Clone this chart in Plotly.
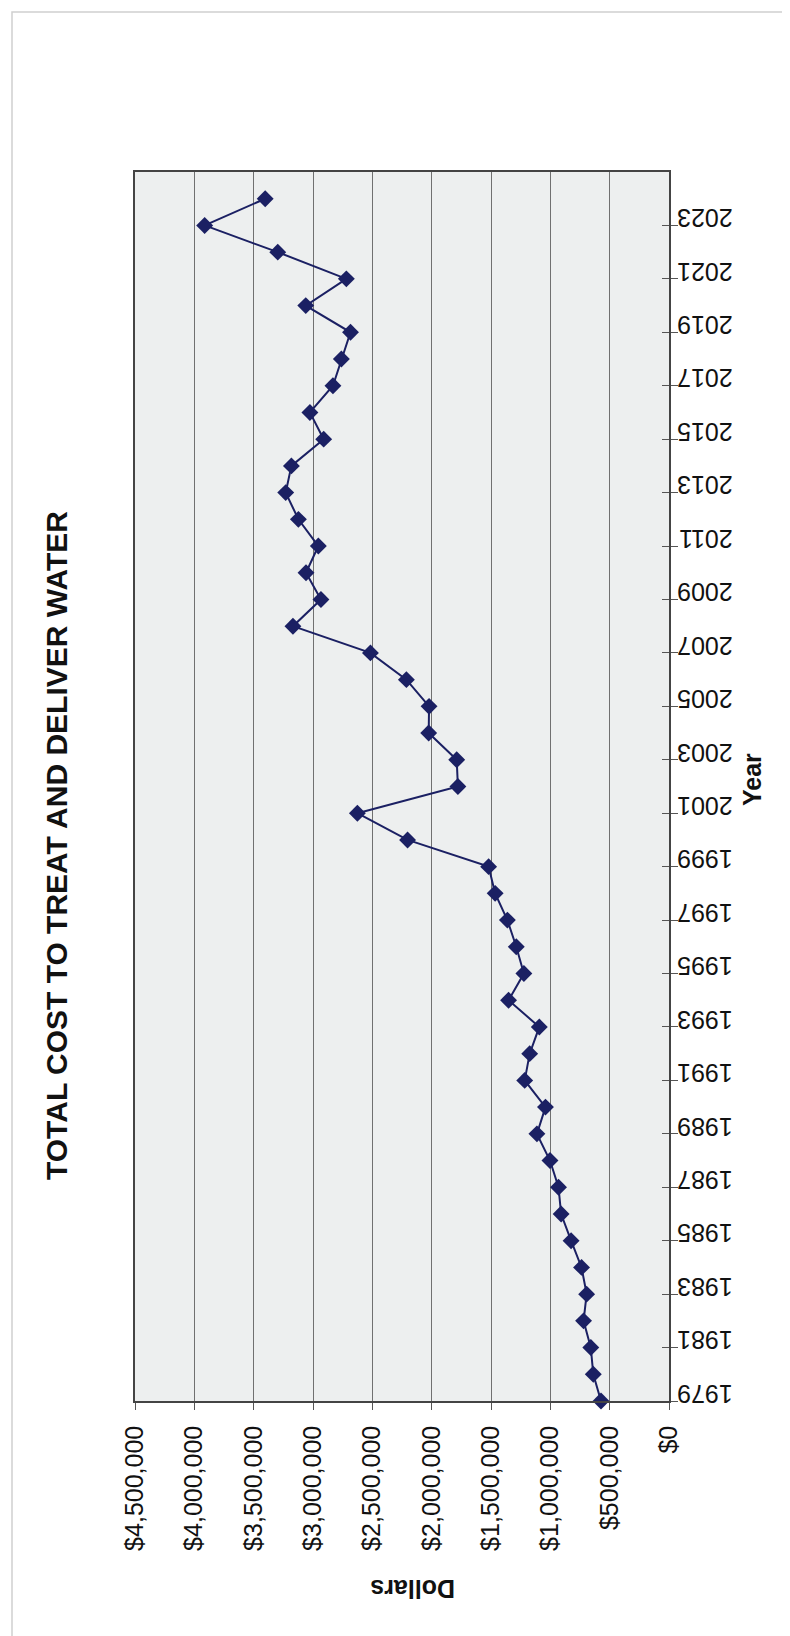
import plotly.graph_objects as go

# ---- data ----
years = list(range(1979, 2025))
costs = [
    573000, 638000, 659000, 720000, 694000, 737000, 825000, 909000, 931000, 1003000,
    1113000, 1041000, 1216000, 1174000, 1093000, 1352000, 1223000, 1287000, 1362000, 1465000,
    1520000, 2203000, 2626000, 1779000, 1789000, 2025000, 2022000, 2213000, 2516000, 3169000,
    2933000, 3059000, 2955000, 3123000, 3230000, 3182000, 2910000, 3026000, 2832000, 2761000,
    2684000, 3061000, 2719000, 3297000, 3913000, 3403000,
]
dollar_ticks = [0, 500000, 1000000, 1500000, 2000000, 2500000, 3000000, 3500000, 4000000, 4500000]
dollar_labels = ["$0", "$500,000", "$1,000,000", "$1,500,000", "$2,000,000",
                 "$2,500,000", "$3,000,000", "$3,500,000", "$4,000,000", "$4,500,000"]
year_ticks = list(range(1979, 2024, 2))
title_text = "TOTAL COST TO TREAT AND DELIVER WATER"

# ---- layout geometry (pixels) ----
W, H = 790, 1636
L, R, T, B = 127, 661, 164, 1393

def px(xp):
    return (xp - L) / (R - L)

def py(yp):
    return (B - yp) / (B - T)

FONT = "Liberation Sans, Arial, sans-serif"
GRID = "#707070"
NAVY = "#1b2063"

fig = go.Figure()
fig.add_trace(go.Scatter(
    x=costs, y=years, mode="lines+markers",
    line=dict(color=NAVY, width=2),
    marker=dict(symbol="diamond", size=13, color=NAVY),
    cliponaxis=False, showlegend=False, hoverinfo="x+y",
))
# same series on an overlaid axis, only so the inner half of the crossing year ticks is drawn
fig.add_trace(go.Scatter(
    x=costs, y=years, yaxis="y2", mode="lines",
    line=dict(color="rgba(0,0,0,0)", width=0), showlegend=False, hoverinfo="skip",
))

axis_common = dict(showline=True, linecolor="#444", linewidth=1.5, zeroline=False)

fig.update_layout(
    width=W, height=H,
    margin=dict(l=L, r=W - R, t=T, b=H - B, pad=0),
    paper_bgcolor="white",
    plot_bgcolor="#edefef",
    font=dict(family=FONT, color="#111111"),
    xaxis=dict(
        range=[4500000, 0], tickvals=dollar_ticks, ticktext=dollar_labels,
        tickangle=-90, tickfont=dict(size=25, family=FONT, color="#111"),
        ticklabelstandoff=6,
        showgrid=True, gridcolor=GRID, gridwidth=1, mirror=True,
        ticks="outside", ticklen=7, tickcolor="#555", **axis_common,
    ),
    yaxis=dict(
        range=[1979, 2025], tickvals=year_ticks, ticktext=[str(y) for y in year_ticks],
        side="right", tickangle=180, tickfont=dict(size=25, family=FONT, color="#111"),
        ticklabelstandoff=50,
        showgrid=False, mirror=True,
        ticks="outside", ticklen=7, tickcolor="#555", **axis_common,
    ),
    yaxis2=dict(
        range=[1979, 2025], tickvals=year_ticks, overlaying="y", side="right",
        showticklabels=False, showgrid=False, ticks="inside", ticklen=7, tickcolor="#555",
        showline=False, zeroline=False,
    ),
    annotations=[
        dict(text=f"<b>{title_text}</b>", x=px(48), y=py(838), xref="paper", yref="paper",
             textangle=-90, showarrow=False, xanchor="center", yanchor="middle",
             font=dict(size=30, family=FONT, color="#111")),
        dict(text="<b>Year</b>", x=px(744), y=py(772), xref="paper", yref="paper",
             textangle=-90, showarrow=False, xanchor="center", yanchor="middle",
             font=dict(size=25, family=FONT, color="#111")),
        dict(text="<b>Dollars</b>", x=px(405), y=py(1581), xref="paper", yref="paper",
             textangle=180, showarrow=False, xanchor="center", yanchor="middle",
             font=dict(size=25, family=FONT, color="#111")),
    ],
    shapes=[
        dict(type="rect", xref="paper", yref="paper",
             x0=px(4), x1=px(786), y0=py(1631), y1=py(4),
             line=dict(color="#d0d0d0", width=1.5), fillcolor="rgba(0,0,0,0)", layer="below"),
    ],
)

fig.write_html("out.html")
